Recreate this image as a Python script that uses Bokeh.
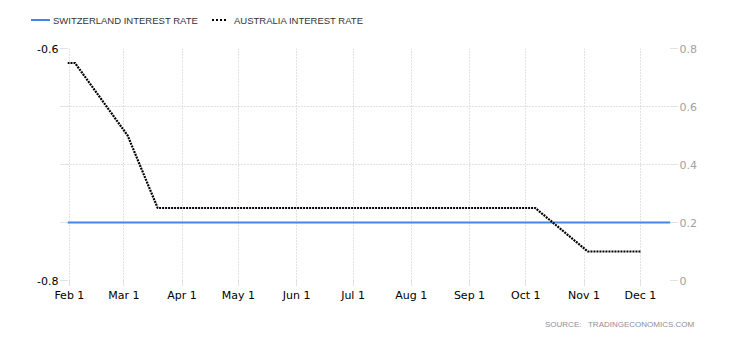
import pandas as pd
from bokeh.plotting import figure
from bokeh.layouts import column
from bokeh.models import (Range1d, LinearAxis, FixedTicker, DatetimeTickFormatter, Div)
from bokeh.embed import file_html
from bokeh.resources import INLINE

# ---- data ----
swiss_dates = ["2020-01-31", "2020-03-19", "2020-06-18", "2020-09-24", "2020-12-17"]
swiss_rate = [-0.75, -0.75, -0.75, -0.75, -0.75]

aus_dates = ["2020-01-31", "2020-02-04", "2020-03-03", "2020-03-19", "2020-04-07",
             "2020-05-05", "2020-06-02", "2020-07-07", "2020-08-04", "2020-09-01",
             "2020-10-06", "2020-11-03", "2020-12-01"]
aus_rate = [0.75, 0.75, 0.50, 0.25, 0.25, 0.25, 0.25, 0.25, 0.25, 0.25, 0.25, 0.10, 0.10]

x_tick_dates = ["2020-02-01", "2020-03-01", "2020-04-01", "2020-05-01", "2020-06-01",
                "2020-07-01", "2020-08-01", "2020-09-01", "2020-10-01", "2020-11-01",
                "2020-12-01"]
left_ticks = [-0.8, -0.75, -0.7, -0.65, -0.6]
left_tick_labels = ["-0.8", "", "", "", "-0.6"]
right_ticks = [0.0, 0.2, 0.4, 0.6, 0.8]
right_tick_labels = ["0", "0.2", "0.4", "0.6", "0.8"]

series_names = ["SWITZERLAND INTEREST RATE", "AUSTRALIA INTEREST RATE"]
source_text = "SOURCE:&nbsp;&nbsp; TRADINGECONOMICS.COM"

x_start, x_end = "2020-01-31", "2020-12-17"

GRID = "#c4c4c4"
SW_COLOR = "#4287e8"
AU_COLOR = "#000000"

# ---- legend strip (HTML) ----
legend_html = f"""
<div style="position:relative;width:730px;height:34px;font-family:'Liberation Sans',sans-serif;
font-size:9.5px;color:#333333;white-space:nowrap;">
<span style="position:absolute;left:31px;top:19px;width:19px;height:0;border-top:2px solid {SW_COLOR};"></span>
<span style="position:absolute;left:53px;top:14px;line-height:14px;">{series_names[0]}</span>
<span style="position:absolute;left:212px;top:19px;width:14px;height:0;border-top:2px dotted {AU_COLOR};"></span>
<span style="position:absolute;left:234px;top:14px;line-height:14px;">{series_names[1]}</span>
</div>"""
legend_div = Div(text=legend_html, width=730, height=34, margin=0)

# ---- main chart ----
p = figure(width=730, height=276, x_axis_type="datetime",
           x_range=Range1d(pd.Timestamp(x_start), pd.Timestamp(x_end)),
           y_range=Range1d(-0.8, -0.6),
           output_backend="svg", toolbar_location=None,
           min_border_left=67, min_border_right=60, min_border_top=14, min_border_bottom=30)
p.outline_line_color = None
p.background_fill_color = "white"
p.border_fill_color = "white"

p.extra_y_ranges = {"right": Range1d(0, 0.8)}

p.line(pd.to_datetime(swiss_dates), swiss_rate, line_color=SW_COLOR, line_width=2)
p.line(pd.to_datetime(aus_dates), aus_rate, y_range_name="right",
       line_color=AU_COLOR, line_width=2.2, line_dash="2 1")

tick_ms = [int(t.value // 10**6) for t in pd.to_datetime(x_tick_dates)]
xt = FixedTicker(ticks=tick_ms)
xa = p.xaxis[0]
xa.ticker = xt
xa.formatter = DatetimeTickFormatter(days="%b %-d", months="%b %-d", years="%b %-d")


def style_axis(ax, tick_out, standoff, color):
    ax.axis_line_color = None
    ax.major_tick_line_color = GRID
    ax.major_tick_line_dash = "1 1"
    ax.major_tick_out = tick_out
    ax.major_tick_in = 0
    ax.minor_tick_line_color = None
    ax.major_label_standoff = standoff
    ax.major_label_text_font = "DejaVu Sans"
    ax.major_label_text_font_size = "11px"
    ax.major_label_text_color = color


style_axis(xa, 5, 3, "#000000")

ya = p.yaxis[0]
ya.ticker = FixedTicker(ticks=left_ticks)
ya.major_label_overrides = dict(zip(left_ticks, left_tick_labels))
style_axis(ya, 7, 2, "#000000")

ra = LinearAxis(y_range_name="right", ticker=FixedTicker(ticks=right_ticks))
ra.major_label_overrides = dict(zip(right_ticks, right_tick_labels))
style_axis(ra, 7, 2, "#a0a0aa")
p.add_layout(ra, "right")

p.xgrid.ticker = xt
p.xgrid.grid_line_color = GRID
p.xgrid.grid_line_dash = "1 2"
p.ygrid.ticker = FixedTicker(ticks=left_ticks)
p.ygrid.grid_line_color = GRID
p.ygrid.grid_line_dash = "1 2"

# ---- source strip (HTML) ----
source_html = f"""
<div style="position:relative;width:730px;height:30px;font-family:'Liberation Sans',sans-serif;
font-size:8px;color:#8e8e9a;white-space:nowrap;">
<span style="position:absolute;left:545px;top:9px;line-height:12px;">{source_text}</span>
</div>"""
source_div = Div(text=source_html, width=730, height=30, margin=0)

layout = column(legend_div, p, source_div, spacing=0)
open("out.html", "w").write(file_html(layout, INLINE))
